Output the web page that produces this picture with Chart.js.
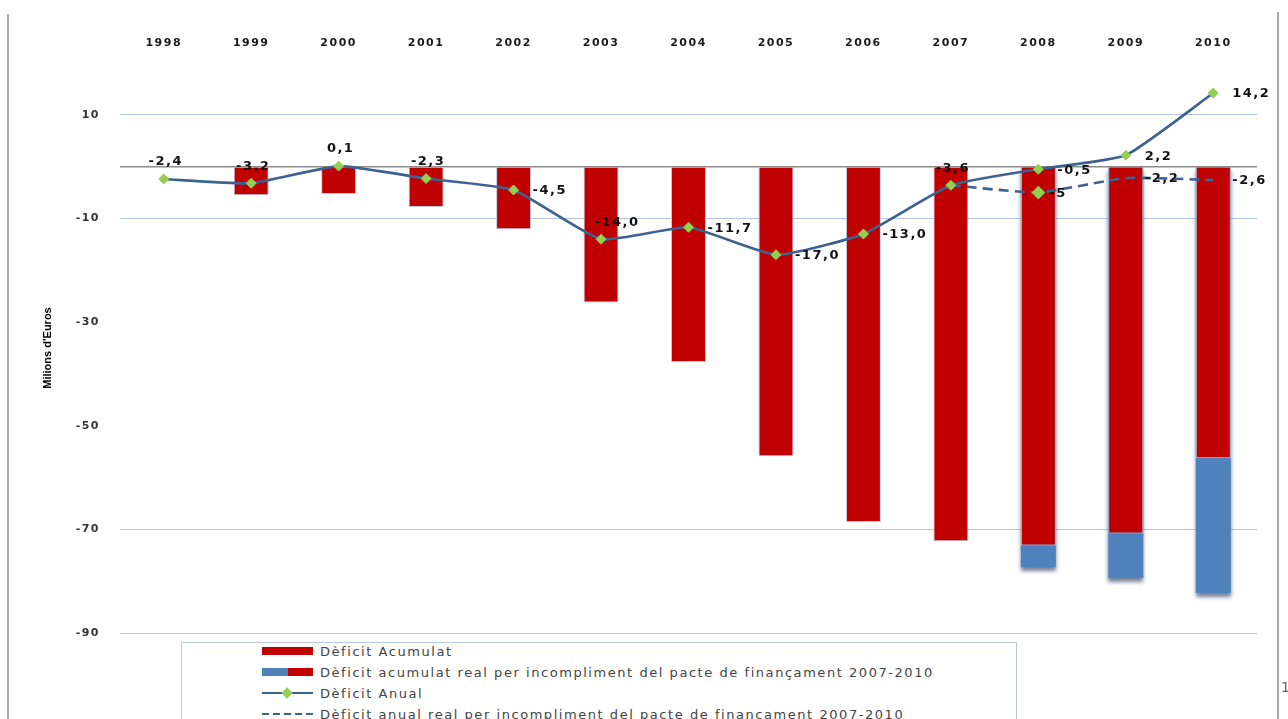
<!DOCTYPE html>
<html>
<head>
<meta charset="utf-8">
<script src="https://cdn.jsdelivr.net/npm/chart.js@4.4.1/dist/chart.umd.min.js"></script>
<style>
html,body{margin:0;padding:0;background:#fff;overflow:hidden;}
#wrap{position:relative;width:1288px;height:719px;overflow:hidden;}
#c{position:absolute;left:0;top:0;}
.frameL{position:absolute;left:7px;top:14px;width:2px;height:720px;background:#a8a8a8;}
.frameR{position:absolute;left:1277px;top:12px;width:2px;height:720px;background:#a8a8a8;}
#legend{position:absolute;left:181px;top:642px;width:836px;height:110px;border:1px solid #b9c9e2;box-sizing:border-box;background:#fff;}
.item{position:absolute;left:80px;height:14px;display:flex;align-items:center;font:13px 'DejaVu Sans',sans-serif;letter-spacing:1.55px;color:#444;white-space:nowrap;}
.sym{width:51px;height:14px;position:relative;margin-right:7px;flex:none;}
.pg{position:absolute;left:1281px;top:679px;font:14px 'DejaVu Sans',sans-serif;color:#666;}
</style>
</head>
<body>
<div id="wrap">
  <canvas id="c" width="1288" height="719"></canvas>
  <div class="frameL"></div>
  <div class="frameR"></div>
  <div id="legend"></div>
  <div class="pg">1</div>
</div>
<script>
// ---- data ----
const years = ['1998','1999','2000','2001','2002','2003','2004','2005','2006','2007','2008','2009','2010'];
const deficitAcumulat = [null, -5.5, -5.3, -7.8, -12.1, -26.2, -37.7, -55.9, -68.6, -72.3, -73.1, -70.8, -56.3];
const deficitAcumulatReal = [null, null, null, null, null, null, null, null, null, null, -77.3, -79.4, -82.3];
const deficitAnual = [-2.4, -3.2, 0.1, -2.3, -4.5, -14.0, -11.7, -17.0, -13.0, -3.6, -0.5, 2.2, 14.2];
const deficitAnualReal = [null, null, null, null, null, null, null, null, null, -3.6, -5.0, -2.2, -2.6];
const anualLabels = ['-2,4','-3,2','0,1','-2,3','-4,5','-14,0','-11,7','-17,0','-13,0','-3,6','-0,5','2,2','14,2'];
const anualRealLabels = ['','','','','','','','','','','-5','-2,2','-2,6'];
const yTickValues = [10, 0, -10, -30, -50, -70, -90];
const seriesNames = [
  'Dèficit Acumulat',
  'Dèficit acumulat real per incompliment del pacte de finançament 2007-2010',
  'Dèficit Anual',
  'Dèficit anual real per incompliment del pacte de finançament 2007-2010'
];
const yTitle = "Milions d'Euros";

// ---- styles ----
const RED = '#C00000', BLUE = '#4F81BD', LINE = '#3D6190', GREEN = '#92D050';
const anualPos = ['a','a','a','a','r','ar','r','r','r','a','r','r','r'];
const realPos  = ['','','','','','','','','','','r2','r','r'];
const realPointRadius = [0,0,0,0,0,0,0,0,0,0,5,0,0];

const shadowPlugin = {
  id: 'barShadow',
  beforeDatasetDraw(chart, args) {
    if (args.index === 1) {
      const c = chart.ctx; c.save();
      c.shadowColor = 'rgba(25,45,80,0.6)'; c.shadowBlur = 4; c.shadowOffsetY = 4;
    }
  },
  afterDatasetDraw(chart, args) { if (args.index === 1) chart.ctx.restore(); }
};

const spacingPlugin = {
  id: 'spacing',
  beforeDraw(chart) { chart.ctx.letterSpacing = '1.5px'; }
};

const labelPlugin = {
  id: 'pointLabels',
  afterDatasetsDraw(chart) {
    const ctx = chart.ctx;
    ctx.save();
    ctx.font = 'bold 13px "DejaVu Sans"';
    ctx.letterSpacing = '1.5px';
    ctx.fillStyle = '#111';
    ctx.textBaseline = 'middle';
    [[2, anualLabels, anualPos], [3, anualRealLabels, realPos]].forEach(([di, texts, pos]) => {
      const meta = chart.getDatasetMeta(di);
      meta.data.forEach((pt, i) => {
        const t = texts[i], p = pos[i];
        if (!t || !p || pt.skip) return;
        if (p === 'a') { ctx.textAlign = 'center'; ctx.fillText(t, pt.x + 2, pt.y - 17); }
        else if (p === 'ar') { ctx.textAlign = 'center'; ctx.fillText(t, pt.x + 16, pt.y - 17); }
        else if (p === 'r2') { ctx.textAlign = 'left'; ctx.fillText(t, pt.x + 11, pt.y + 1); }
        else { ctx.textAlign = 'left'; ctx.fillText(t, pt.x + 19, pt.y + 1); }
      });
    });
    ctx.restore();
  },
  afterDraw(chart) {
    const ctx = chart.ctx, a = chart.chartArea;
    ctx.save();
    ctx.letterSpacing = '0px';
    ctx.translate(48, (a.top + a.bottom) / 2);
    ctx.rotate(-Math.PI / 2);
    ctx.font = 'bold 11px "Liberation Sans"';
    ctx.fillStyle = '#000';
    ctx.textAlign = 'center';
    ctx.textBaseline = 'middle';
    ctx.fillText(yTitle, 0, 0);
    ctx.restore();
  }
};

const chart = new Chart(document.getElementById('c'), {
  data: {
    labels: years,
    datasets: [
      { type: 'bar', label: seriesNames[0], data: deficitAcumulat, backgroundColor: RED,
        borderColor: '#bccde6', borderWidth: 1, order: 2, grouped: false,
        barPercentage: 0.4, categoryPercentage: 1 },
      { type: 'bar', label: seriesNames[1], data: deficitAcumulatReal, backgroundColor: BLUE,
        borderWidth: 0, order: 3, grouped: false, barPercentage: 0.4, categoryPercentage: 1 },
      { type: 'line', label: seriesNames[2], data: deficitAnual, borderColor: LINE, borderWidth: 2.6,
        tension: 0.15, pointStyle: 'rectRot', pointRadius: 5, pointBackgroundColor: GREEN,
        pointBorderColor: GREEN, pointBorderWidth: 1, order: 0 },
      { type: 'line', label: seriesNames[3], data: deficitAnualReal, borderColor: LINE, borderWidth: 2.6,
        borderDash: [10, 6], tension: 0.15, pointStyle: 'rectRot', pointRadius: realPointRadius,
        pointBackgroundColor: GREEN, pointBorderColor: GREEN, order: 1 }
    ]
  },
  options: {
    responsive: false, animation: false, devicePixelRatio: 1,
    layout: { padding: { left: 30, right: 31, top: 33, bottom: 86 } },
    plugins: { legend: { display: false }, tooltip: { enabled: false } },
    scales: {
      x: {
        position: 'top', offset: true,
        grid: { display: false, drawTicks: false }, border: { display: false },
        ticks: { font: { family: 'DejaVu Sans', size: 11, weight: 'bold' }, color: '#1a1a1a',
                 padding: 13, maxRotation: 0, autoSkip: false },
        afterFit(s) { s.height = 30; }
      },
      y: {
        min: -90, max: 20, position: 'left',
        border: { display: false },
        grid: {
          drawTicks: false,
          color: ctx => ctx.tick && ctx.tick.value === 0 ? '#8c8c8c'
                 : (ctx.tick && (ctx.tick.value === -30 || ctx.tick.value === -50) ? 'rgba(0,0,0,0)' : '#b3c6e6'),
          lineWidth: ctx => ctx.tick && ctx.tick.value === 0 ? 1.6 : 1
        },
        afterBuildTicks(s) { s.ticks = yTickValues.map(v => ({ value: v })); },
        ticks: { padding: 20, font: { family: 'DejaVu Sans', size: 11, weight: 'bold' }, color: '#333',
                 callback: v => v === 0 ? '' : String(v) },
        afterFit(s) { s.width = 90; }
      }
    }
  },
  plugins: [shadowPlugin, spacingPlugin, labelPlugin]
});

// ---- legend (HTML) ----
const legend = document.getElementById('legend');
const symHTML = [
  `<div style="position:absolute;left:0;top:3px;width:51px;height:8px;background:${RED}"></div>`,
  `<div style="position:absolute;left:0;top:3px;width:26px;height:8px;background:${BLUE}"></div><div style="position:absolute;left:26px;top:3px;width:25px;height:8px;background:${RED}"></div>`,
  `<div style="position:absolute;left:0;top:6px;width:51px;height:2px;background:${LINE}"></div><div style="position:absolute;left:21px;top:3px;width:8px;height:8px;background:${GREEN};transform:rotate(45deg)"></div>`,
  `<div style="position:absolute;left:0;top:6px;width:51px;height:2px;background:repeating-linear-gradient(to right,${LINE} 0 7px,transparent 7px 11px)"></div>`
];
chart.data.datasets.forEach((ds, i) => {
  const it = document.createElement('div');
  it.className = 'item';
  it.style.top = (1 + i * 21) + 'px';
  it.innerHTML = `<div class="sym">${symHTML[i]}</div><span>${ds.label}</span>`;
  legend.appendChild(it);
});
</script>
</body>
</html>
